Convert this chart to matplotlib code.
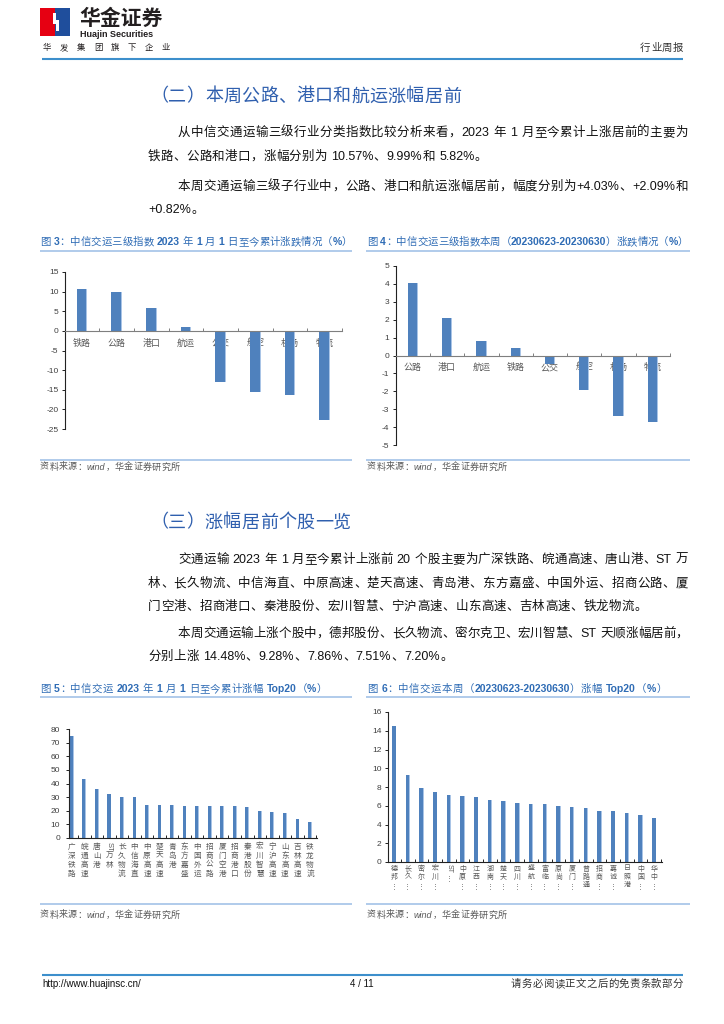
import matplotlib
matplotlib.use('Agg')
import matplotlib.pyplot as plt
from matplotlib.patches import Rectangle, Polygon
from matplotlib.lines import Line2D

plt.rcParams['axes.unicode_minus'] = False

# ---------------- data ----------------
cat3 = ['铁路', '公路', '港口', '航运', '公交', '航空', '机场', '物流']
val3 = [10.57, 9.99, 5.82, 0.92, -12.9, -15.7, -16.4, -22.7]
yticks3 = [-25, -20, -15, -10, -5, 0, 5, 10, 15]

cat4 = ['公路', '港口', '航运', '铁路', '公交', '航空', '机场', '物流']
val4 = [4.03, 2.09, 0.82, 0.42, -0.45, -1.95, -3.38, -3.72]
yticks4 = [-5, -4, -3, -2, -1, 0, 1, 2, 3, 4, 5]

cat5 = ['广深铁路', '皖通高速', '唐山港', 'ST万林', '长久物流', '中信海直', '中原高速',
        '楚天高速', '青岛港', '东方嘉盛', '中国外运', '招商公路', '厦门空港', '招商港口',
        '秦港股份', '宏川智慧', '宁沪高速', '山东高速', '吉林高速', '铁龙物流']
val5 = [74.8, 43.2, 36.1, 32.4, 29.9, 29.8, 24.5, 24.4, 23.9, 23.8, 23.8, 23.4,
        23.4, 23.4, 22.6, 19.9, 18.9, 18.7, 14.3, 11.9]
yticks5 = [0, 10, 20, 30, 40, 50, 60, 70, 80]

cat6 = ['德邦…', '长久…', '密尔…', '宏川…', 'ST…', '中原…', '江西…', '湖南…', '楚天…',
        '四川…', '盛航…', '富临…', '原尚…', '厦门…', '普路通', '招商…', '嘉诚…', '日照港',
        '中国…', '华中…']
val6 = [14.48, 9.28, 7.86, 7.51, 7.20, 7.0, 6.9, 6.58, 6.47, 6.26, 6.15, 6.15,
        5.94, 5.83, 5.80, 5.48, 5.40, 5.26, 4.98, 4.69]
yticks6 = [0, 2, 4, 6, 8, 10, 12, 14, 16]

# ---------------- setup ----------------
W, H = 724, 1024
fig = plt.figure(figsize=(7.24, 10.24), dpi=100)
FAM = ['Liberation Sans', 'Noto Sans CJK SC', 'DejaVu Sans']
renderer = fig.canvas.get_renderer()

BAR = '#4f81bd'
BAR_HI = '#a9c4e6'
TITLE = '#2f6cb5'
HEAD = '#2f5fae'
LINEB = '#9bbde6'


def fx(x):
    return x / W


def fy(y):
    return 1 - y / H


def hline(x0, x1, y, color, lw):
    fig.add_artist(Line2D([fx(x0), fx(x1)], [fy(y), fy(y)], color=color, lw=lw,
                          transform=fig.transFigure, solid_capstyle='butt'))


def tokenize(s):
    toks, buf = [], ''
    for ch in s:
        if ord(ch) < 128 and ch != ' ':
            buf += ch
        else:
            if buf:
                toks.append(buf)
                buf = ''
            toks.append(ch)
    if buf:
        toks.append(buf)
    return toks


def tok_w(tok, size, weight='normal'):
    if tok == ' ':
        return size * 100 / 72 * 0.28
    t = fig.text(0, 0, tok, fontsize=size, family=FAM, weight=weight)
    w = t.get_window_extent(renderer).width
    t.remove()
    return w


def draw_line(s, x0, y, size, color, x1=None, gap=0.3, weight='normal',
              ascii_bold=False, style='normal'):
    toks = tokenize(s)
    wts = []
    for t in toks:
        if ascii_bold and ord(t[0]) < 128 and t != ' ':
            wts.append('bold')
        else:
            wts.append(weight)
    ws = [tok_w(t, size, wt) for t, wt in zip(toks, wts)]
    if x1 is not None and len(toks) > 1:
        g = (x1 - x0 - sum(ws)) / (len(toks) - 1)
    else:
        g = gap
    x = x0
    for t, w, wt in zip(toks, ws, wts):
        if t != ' ':
            fig.text(fx(x), fy(y), t, fontsize=size, family=FAM, color=color,
                     va='center', ha='left', weight=wt, style=style)
        x += w + g


# ---------------- header ----------------
fig.add_artist(Rectangle((fx(40), fy(36)), 15 / W, 28 / H, transform=fig.transFigure,
                         color='#e60012', lw=0))
fig.add_artist(Rectangle((fx(55), fy(36)), 15 / W, 28 / H, transform=fig.transFigure,
                         color='#1f4e9c', lw=0))
fig.add_artist(Polygon([(fx(53), fy(13)), (fx(55.5), fy(13)), (fx(55.5), fy(20)),
                        (fx(59), fy(20)), (fx(59), fy(31)), (fx(56.5), fy(31)),
                        (fx(56.5), fy(24)), (fx(53), fy(24))],
                       closed=True, transform=fig.transFigure, color='white', lw=0))
fig.text(fx(79), fy(19), '华金证券', fontsize=15, weight='bold', family=FAM,
         color='#231f20', va='center', ha='left')
fig.text(fx(80), fy(34.5), 'Huajin Securities', fontsize=6.5, weight='bold',
         family=FAM, color='#231f20', va='center', ha='left')
for k, ch in enumerate('华发集团旗下企业'):
    fig.text(fx(43 + k * 17), fy(50), ch, fontsize=6, family=FAM, color='#231f20',
             va='baseline', ha='left')
draw_line('行业周报', 640, 48, 7.5, '#333333', x1=683)
hline(42, 683, 59, '#3d8fcc', 1.5)

# ---------------- section 2 text ----------------
draw_line('（二）本周公路、港口和航运涨幅居前', 150, 97, 13, HEAD)
draw_line('从中信交通运输三级行业分类指数比较分析来看，2023 年 1 月至今累计上涨居前的主要为',
          178, 133, 9, '#111111', x1=688)
draw_line('铁路、公路和港口，涨幅分别为 10.57%、9.99%和 5.82%。', 148, 157, 9, '#111111')
draw_line('本周交通运输三级子行业中，公路、港口和航运涨幅居前，幅度分别为+4.03%、+2.09%和',
          178, 187, 9, '#111111', x1=688)
draw_line('+0.82%。', 148, 210, 9, '#111111')

# ---------------- chart titles row 1 ----------------
draw_line('图 3：中信交运三级指数 2023 年 1 月 1 日至今累计涨跌情况（%）', 40, 242, 7.5,
          TITLE, x1=352, ascii_bold=True)
draw_line('图 4：中信交运三级指数本周（20230623-20230630）涨跌情况（%）', 367, 242, 7.5,
          TITLE, x1=688, ascii_bold=True)
hline(40, 352, 251, LINEB, 1.1)
hline(366, 690, 251, LINEB, 1.1)
hline(40, 352, 460, LINEB, 1.1)
hline(366, 690, 460, LINEB, 1.1)
draw_line('资料来源：wind，华金证券研究所', 40, 467, 6.5, '#595959', style='italic')
draw_line('资料来源：wind，华金证券研究所', 367, 467, 6.5, '#595959', style='italic')


def add_ax(left, right, top, bottom):
    return fig.add_axes([fx(left), fy(bottom), (right - left) / W, (bottom - top) / H])


def style_common(ax, yt, ymin, ymax, pad):
    ax.set_ylim(ymin, ymax)
    ax.set_yticks(yt)
    ax.set_yticklabels([str(v) for v in yt])
    ax.tick_params(axis='y', direction='out', length=2.5, width=0.7, pad=pad,
                   labelsize=6, labelcolor='#404040', color='#222222')
    for lbl in ax.get_yticklabels():
        lbl.set_family(FAM)
    ax.spines['top'].set_visible(False)
    ax.spines['right'].set_visible(False)
    ax.spines['left'].set_color('#222222')
    ax.spines['left'].set_linewidth(0.8)
    ax.patch.set_alpha(0)


def draw_bars(ax, vals, width, hi_w):
    x = list(range(len(vals)))
    ax.bar(x, vals, width=width, color=BAR, lw=0, zorder=2)
    ax.bar([i + width / 2 - hi_w / 2 for i in x], vals, width=hi_w, color=BAR_HI,
           lw=0, zorder=2.1)
    return x


def category_chart(ax, cats, vals, yt, ymin, ymax, width):
    x = draw_bars(ax, vals, width, 0.03)
    ax.set_xlim(-0.49, len(cats) - 0.5)
    style_common(ax, yt, ymin, ymax, 2.2)
    ax.spines['bottom'].set_position(('data', 0))
    ax.spines['bottom'].set_color('#7f7f7f')
    ax.spines['bottom'].set_linewidth(0.8)
    ax.spines['bottom'].set_zorder(3)
    ax.set_xticks(x)
    ax.set_xticklabels(cats, fontsize=6.5, color='#595959', fontfamily=FAM)
    ax.set_xticks([i + 0.5 for i in x], minor=True)
    ax.tick_params(axis='x', which='major', length=0, pad=5.5)
    ax.tick_params(axis='x', which='minor', direction='in', length=2.5, width=0.7,
                   color='#7f7f7f')
    for lbl in ax.get_xticklabels():
        lbl.set_zorder(4)


ax3 = add_ax(65, 342, 272, 429)
category_chart(ax3, cat3, val3, yticks3, -25, 15, 0.31)
ax4 = add_ax(396, 670, 266, 445)
category_chart(ax4, cat4, val4, yticks4, -5, 5, 0.30)

# ---------------- section 3 text ----------------
draw_line('（三）涨幅居前个股一览', 150, 523, 13, HEAD)
draw_line('交通运输 2023 年 1 月至今累计上涨前 20 个股主要为广深铁路、皖通高速、唐山港、ST 万',
          178, 560, 9, '#111111', x1=688)
draw_line('林、长久物流、中信海直、中原高速、楚天高速、青岛港、东方嘉盛、中国外运、招商公路、厦',
          148, 584, 9, '#111111', x1=688)
draw_line('门空港、招商港口、秦港股份、宏川智慧、宁沪高速、山东高速、吉林高速、铁龙物流。',
          148, 607, 9, '#111111')
draw_line('本周交通运输上涨个股中，德邦股份、长久物流、密尔克卫、宏川智慧、ST 天顺涨幅居前，',
          178, 634, 9, '#111111', x1=688)
draw_line('分别上涨 14.48%、9.28%、7.86%、7.51%、7.20%。', 148, 657, 9, '#111111')

# ---------------- chart titles row 2 ----------------
draw_line('图 5：中信交运 2023 年 1 月 1 日至今累计涨幅 Top20（%）', 40, 689, 7.5, TITLE,
          x1=327, ascii_bold=True)
draw_line('图 6：中信交运本周（20230623-20230630）涨幅 Top20（%）', 367, 689, 7.5, TITLE,
          x1=667, ascii_bold=True)
hline(40, 352, 697, LINEB, 1.1)
hline(366, 690, 697, LINEB, 1.1)
hline(40, 352, 904, LINEB, 1.1)
hline(366, 690, 904, LINEB, 1.1)
draw_line('资料来源：wind，华金证券研究所', 40, 915, 6.5, '#595959', style='italic')
draw_line('资料来源：wind，华金证券研究所', 367, 915, 6.5, '#595959', style='italic')


def vlabels(ax, cats, y0, pitch, size):
    for i, name in enumerate(cats):
        xd = ax.transData.transform((i, 0))[0]
        y = y0
        for t in tokenize(name):
            if t == '…':
                fig.text(xd / W, fy(y + 1.5), '⋮', fontsize=size, family=FAM,
                         color='#595959', ha='center', va='center')
            elif ord(t[0]) < 128:
                fig.text(xd / W, fy(y), t, fontsize=size, family=FAM, color='#595959',
                         ha='center', va='center', rotation=270)
            else:
                fig.text(xd / W, fy(y), t, fontsize=size, family=FAM, color='#595959',
                         ha='center', va='center')
            y += pitch


def stock_chart(ax, cats, vals, yt, ymax, width, hi_w, xl, xr, y0, pitch, size, pad):
    x = draw_bars(ax, vals, width, hi_w)
    ax.set_xlim(xl, xr)
    style_common(ax, yt, 0, ymax, pad)
    ax.spines['bottom'].set_color('#222222')
    ax.spines['bottom'].set_linewidth(0.8)
    ax.set_xticks([])
    ax.set_xticks([i + 0.5 for i in x], minor=True)
    ax.tick_params(axis='x', which='minor', direction='in', length=2.5, width=0.7,
                   color='#222222')
    vlabels(ax, cats, y0, pitch, size)


ax5 = add_ax(69, 317, 729, 838)
stock_chart(ax5, cat5, val5, yticks5, 80, 0.30, 0.06, -0.22, 19.56, 847, 9.1, 5.5, 4.0)
ax6 = add_ax(388, 662, 712, 862)
stock_chart(ax6, cat6, val6, yticks6, 16, 0.32, 0.06, -0.45, 19.57, 869, 8.2, 5.0, 2.2)

# ---------------- footer ----------------
hline(42, 683, 975, '#3d8fcc', 1.5)
fig.text(fx(42), fy(984), 'http://www.huajinsc.cn/', fontsize=7, family=FAM,
         color='#111111', va='center', ha='left')
fig.text(fx(362), fy(984), '4 / 11', fontsize=7, family=FAM, color='#111111',
         va='center', ha='center')
draw_line('请务必阅读正文之后的免责条款部分', 511, 984, 7.5, '#333333', x1=683)

fig.savefig('out.png', dpi=100, facecolor='white')
